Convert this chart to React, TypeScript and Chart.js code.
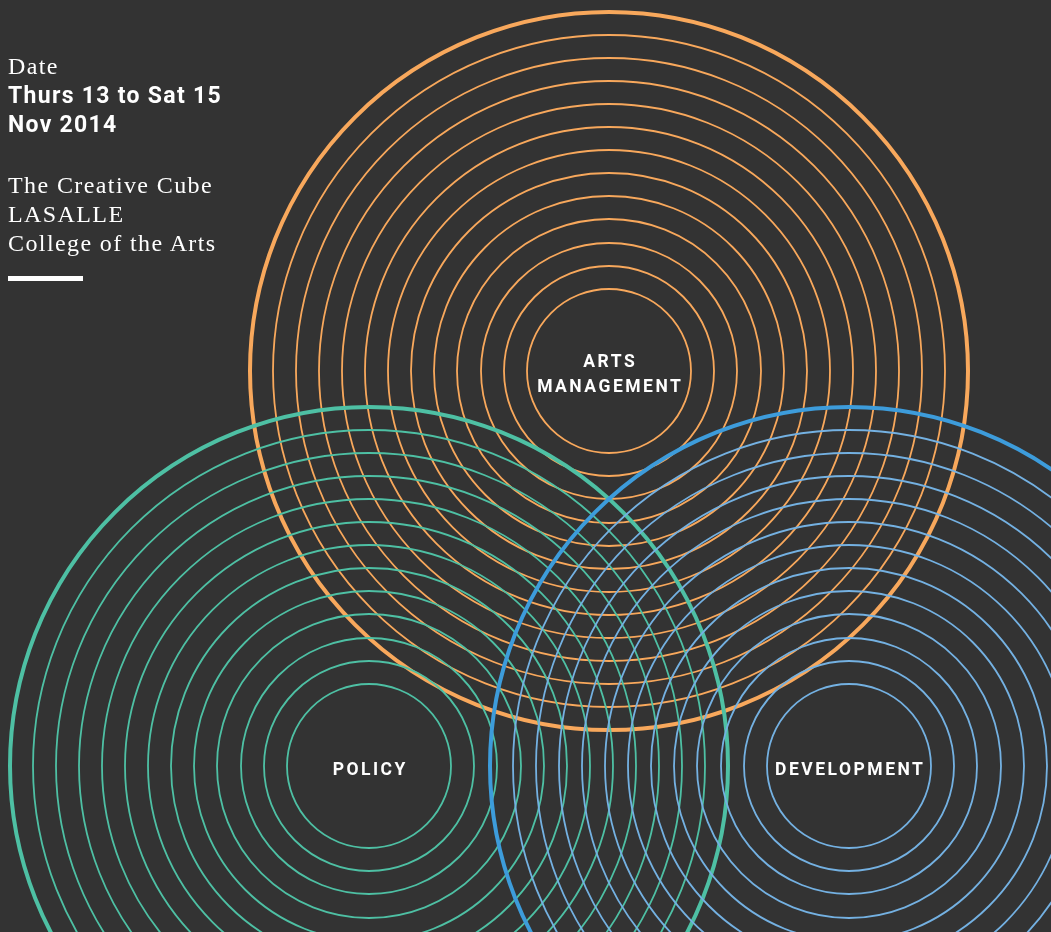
import React, { useEffect, useRef } from "react";
import { Chart, registerables } from "chart.js";

Chart.register(...registerables);

// ---- data ----
const circleNames = ["ARTS MANAGEMENT", "POLICY", "DEVELOPMENT"];
const centerX = [609, 369, 849];
const centerY = [371, 766, 766];
const ringRadii = [359, 336, 313, 290, 267, 244, 221, 198, 175, 152, 128, 105, 82];
const outerColors = ["#F8A85C", "#4EC0A4", "#3D9CDB"];
const innerColors = ["#F8A85C", "#4EC0A4", "#74B1E2"];
const drawOrder = [2, 1, 0];

const dateLines = ["Date", "Thurs 13 to Sat 15", "Nov 2014"];
const venueLines = ["The Creative Cube", "LASALLE", "College of the Arts"];

const W = 1051;
const H = 932;
const BG = "#333333";

export default function App() {
  const canvasRef = useRef<HTMLCanvasElement | null>(null);

  useEffect(() => {
    document.body.style.margin = "0";
    document.body.style.background = BG;
    const canvas = canvasRef.current;
    if (!canvas) return;
    const datasets = circleNames.map((name, ci) => ({
      label: name,
      data: ringRadii.map((r) => ({ x: centerX[ci], y: centerY[ci], r })),
      backgroundColor: "rgba(0,0,0,0)",
      borderColor: (ctx: any) => (ctx.dataIndex === 0 ? outerColors[ci] : innerColors[ci]),
      borderWidth: (ctx: any) => (ctx.dataIndex === 0 ? 4 : 1.8),
      hoverBorderWidth: (ctx: any) => (ctx.dataIndex === 0 ? 4 : 1.8),
      hoverRadius: 0,
      order: drawOrder[ci],
      clip: false as any,
    }));
    const chart = new Chart(canvas, {
      type: "bubble",
      data: { datasets },
      options: {
        animation: false,
        responsive: false,
        devicePixelRatio: 1,
        events: [],
        layout: { padding: 0, autoPadding: false },
        plugins: { legend: { display: false }, tooltip: { enabled: false } },
        scales: {
          x: { type: "linear", min: 0, max: W, display: false },
          y: { type: "linear", min: 0, max: H, reverse: true, display: false },
        },
      },
    });
    return () => chart.destroy();
  }, []);

  const serif: React.CSSProperties = {
    fontFamily: '"Liberation Serif", serif',
    fontSize: 24,
    letterSpacing: 1.4,
    color: "#ffffff",
  };
  const sansBold: React.CSSProperties = {
    fontFamily: "Roboto, sans-serif",
    fontWeight: 700,
    fontSize: 23,
    letterSpacing: 1.3,
    color: "#ffffff",
  };
  const labelStyle: React.CSSProperties = {
    position: "absolute",
    width: 300,
    textAlign: "center",
    fontFamily: "Roboto, sans-serif",
    fontWeight: 700,
    fontSize: 17.5,
    lineHeight: "25px",
    letterSpacing: 2.5,
    paddingLeft: 2.5,
    boxSizing: "border-box",
    color: "#ffffff",
  };
  const labelTops = [349, 757, 757];

  return (
    <div
      style={{
        position: "fixed",
        left: 0,
        top: 0,
        width: W,
        height: H,
        background: BG,
        overflow: "hidden",
      }}
    >
      <canvas ref={canvasRef} width={W} height={H} style={{ position: "absolute", left: 0, top: 0 }} />
      <div style={{ position: "absolute", left: 8, top: 52, lineHeight: "29px", whiteSpace: "nowrap" }}>
        <div style={serif}>{dateLines[0]}</div>
        <div style={sansBold}>{dateLines[1]}</div>
        <div style={sansBold}>{dateLines[2]}</div>
      </div>
      <div style={{ position: "absolute", left: 8, top: 171, lineHeight: "29px", whiteSpace: "nowrap" }}>
        {venueLines.map((l) => (
          <div key={l} style={serif}>
            {l}
          </div>
        ))}
      </div>
      <div style={{ position: "absolute", left: 8, top: 276, width: 75, height: 5, background: "#ffffff" }} />
      {circleNames.map((name, ci) => (
        <div key={name} style={{ ...labelStyle, left: centerX[ci] - 150, top: labelTops[ci] }}>
          {name === "ARTS MANAGEMENT" ? (
            <>
              <div>ARTS</div>
              <div>MANAGEMENT</div>
            </>
          ) : (
            <div>{name}</div>
          )}
        </div>
      ))}
    </div>
  );
}
